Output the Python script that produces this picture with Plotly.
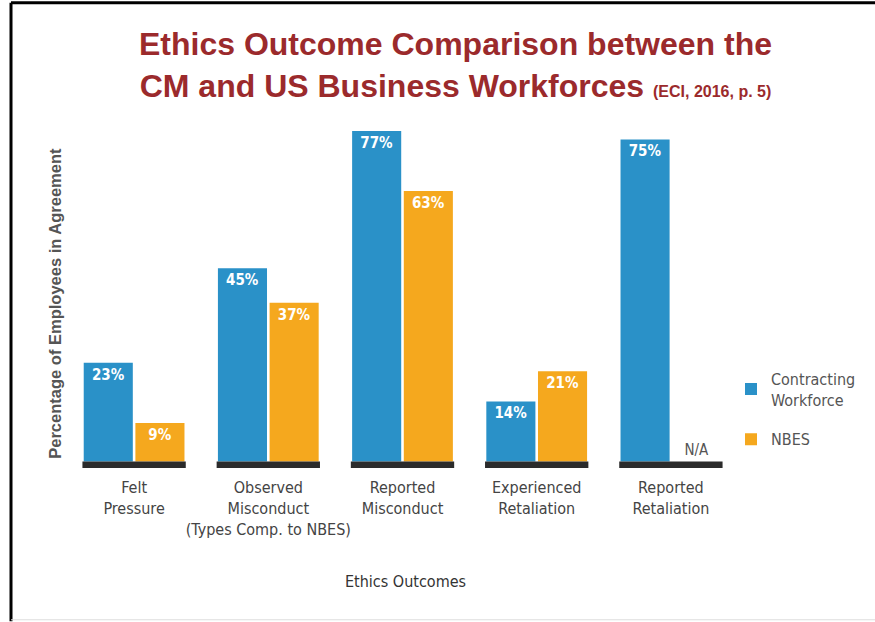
import plotly.graph_objects as go

categories = ["Felt<br>Pressure", "Observed<br>Misconduct<br>(Types Comp. to NBES)",
              "Reported<br>Misconduct", "Experienced<br>Retaliation", "Reported<br>Retaliation"]
contracting = [23, 45, 77, 14, 75]
nbes = [9, 37, 63, 21, 0]
nbes_text = ["<b>9%</b>", "<b>37%</b>", "<b>63%</b>", "<b>21%</b>", "N/A"]
contracting_text = [f"<b>{v}%</b>" for v in contracting]

BLUE = "#2A91C8"
ORANGE = "#F5A81E"
NARROW = "Liberation Sans Narrow, Arial Narrow, DejaVu Sans Condensed, sans-serif"
xs = list(range(len(categories)))

fig = go.Figure()
fig.add_trace(go.Bar(
    x=xs, y=contracting, name="Contracting<br>Workforce", legendgroup="cw",
    marker=dict(color=BLUE, line=dict(width=0)),
    text=contracting_text, textposition="inside", insidetextanchor="end",
    textfont=dict(color="white", size=15, family=NARROW), textangle=0,
))
fig.add_trace(go.Bar(
    x=xs, y=nbes, name="NBES", legendgroup="nbes", marker=dict(color=ORANGE, line=dict(width=0)),
    text=nbes_text, textposition=["inside"] * 4 + ["outside"], insidetextanchor="end",
    textfont=dict(size=15, family=NARROW),
    insidetextfont=dict(color="white", size=15, family=NARROW),
    outsidetextfont=dict(color="#555555", size=15, family=NARROW), textangle=0,
    cliponaxis=False,
))

# dark baselines under each group
for i in xs:
    fig.add_shape(type="rect", xref="x", yref="y", x0=i - 0.385, x1=i + 0.385, y0=-1.5, y1=0,
                  fillcolor="#2b2b2b", line=dict(width=0), layer="above")

# page frame
L, R, T, B = 67, 738, 118, 468.5
W, H = R - L, B - T
def px(xp): return (xp - L) / W
def py(yp): return (B - yp) / H
fig.add_shape(type="line", xref="paper", yref="paper", x0=px(11), x1=px(880), y0=py(2.5), y1=py(2.5),
              line=dict(color="black", width=3))
fig.add_shape(type="line", xref="paper", yref="paper", x0=px(11), x1=px(11), y0=py(2.5), y1=py(622),
              line=dict(color="black", width=3))
fig.add_shape(type="line", xref="paper", yref="paper", x0=px(11), x1=px(880), y0=py(620.5), y1=py(620.5),
              line=dict(color="#dddddd", width=1))

fig.add_annotation(text="<b>Percentage of Employees in Agreement</b>", xref="paper", yref="paper",
                   x=px(55), y=py(304), textangle=-90, showarrow=False,
                   font=dict(family="Liberation Sans, Arial, sans-serif", size=16.5, color="#555555"),
                   xanchor="center", yanchor="middle")

fig.add_annotation(
    text="<b>Ethics Outcome Comparison between the<br>CM and US Business Workforces <span style='font-size:16px'>(ECI, 2016, p. 5)</span></b>",
    xref="paper", yref="paper", x=px(455), y=py(64.5), xanchor="center", yanchor="middle",
    showarrow=False, font=dict(family="Liberation Sans, Arial, sans-serif", size=32, color="#9B2A2C"),
)

fig.add_annotation(text="Ethics Outcomes", xref="paper", yref="paper", x=px(406), y=py(582),
                   xanchor="center", yanchor="middle", showarrow=False,
                   font=dict(family=NARROW, size=16, color="#333333"))

fig.update_layout(
    width=875, height=622,
    margin=dict(l=L, r=875 - R, t=T, b=622 - B, autoexpand=False),
    paper_bgcolor="white", plot_bgcolor="white",
    barmode="group", bargap=0.23, bargroupgap=0.05,
    xaxis=dict(tickvals=xs, ticktext=categories, range=[-0.5, 4.5], showgrid=False, zeroline=False,
               showline=False, ticks="", ticklabelstandoff=8, tickangle=0, automargin=False,
               tickfont=dict(family=NARROW, size=16, color="#444444")),
    yaxis=dict(range=[-1.5, 80], showgrid=False, zeroline=False, showticklabels=False, ticks="",
               showline=False, automargin=False),
    legend=dict(x=px(731), y=py(362), xanchor="left", yanchor="top", traceorder="grouped",
                font=dict(family=NARROW, size=16, color="#555555"), tracegroupgap=16),
    showlegend=True,
)

fig.write_html("out.html")
